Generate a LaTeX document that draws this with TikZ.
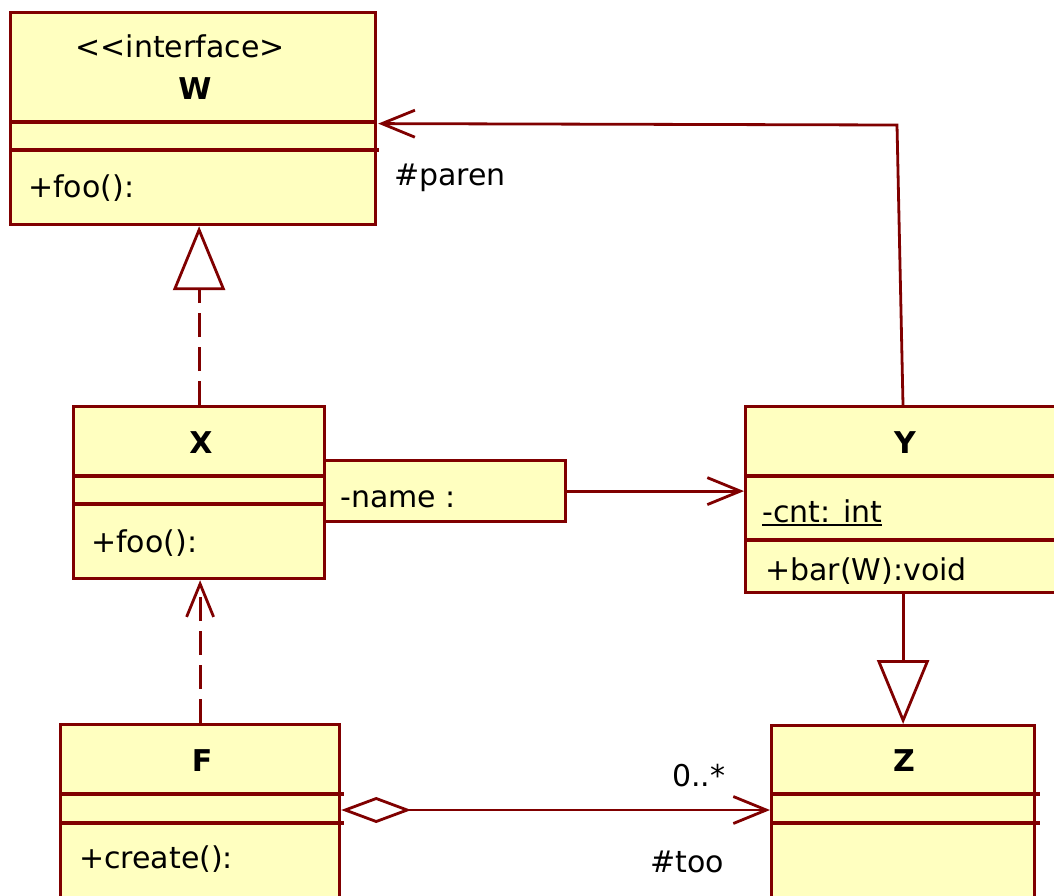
\documentclass[tikz,border=0pt]{standalone}
\usepackage{fontspec}
\setmainfont{DejaVu Sans}
\usetikzlibrary{arrows.meta,calc}
\definecolor{umlred}{RGB}{128,0,0}
\definecolor{umlfill}{RGB}{255,255,192}
\newcommand\umlul[1]{\leavevmode\vtop{\hbox{#1}\kern2pt\hrule height 2pt}}
\tikzset{
  classbox/.style={draw=umlred, fill=umlfill, line width=3.2pt, rectangle, inner sep=0pt, anchor=north west},
  divider/.style={draw=umlred, line width=3.2pt},
  conn/.style={draw=umlred, line width=2.8pt},
  txt/.style={inner sep=0pt, font=\fontsize{30}{36}\selectfont, text=black},
  ttl/.style={inner sep=0pt, font=\fontsize{30}{36}\selectfont\bfseries, text=black, anchor=base},
  dashconn/.style={conn, dash pattern=on 24pt off 10pt},
  openhead/.style={-{Straight Barb[length=33pt, width=27pt, line width=2.8pt]}},
  trihead/.style={-{Triangle[fill=white, length=64pt, width=52pt, line width=2.8pt]}},
  aggr/.style={{Diamond[fill=white, length=70pt, width=26pt, line width=2.8pt]}-{Straight Barb[length=33pt, width=27pt, line width=2.8pt]}}
}
\begin{document}
\begin{tikzpicture}[x=1pt, y=-1pt]
\useasboundingbox (0,0) rectangle (1054,895);
\fill[white] (0,0) rectangle (1054,895);
\clip (0,0) rectangle (1054,895);

% class boxes
\node[classbox, minimum width=365pt, minimum height=212pt] (W) at (9,11) {};
\node[classbox, minimum width=251pt, minimum height=172pt] (X) at (72,405) {};
\node[classbox, minimum width=241pt, minimum height=61pt] (nameattr) at (323,459) {};
\node[classbox, minimum width=330pt, minimum height=186pt] (Y) at (744,405) {};
\node[classbox, minimum width=263pt, minimum height=190pt] (Z) at (770,724) {};
\node[classbox, minimum width=279pt, minimum height=190pt] (F) at (59,723) {};

% dividers
\draw[divider] ($(W.north west)+(0,111)$) -- ($(W.north east)+(0,111)$);
\draw[divider] ($(W.north west)+(0,139)$) -- ($(W.north east)+(2,139)$);
\draw[divider] ($(X.north west)+(0,71)$) -- ($(X.north east)+(0,71)$);
\draw[divider] ($(X.north west)+(0,99)$) -- ($(X.north east)+(0,99)$);
\draw[divider] ($(Y.north west)+(0,71)$) -- ($(Y.north east)+(0,71)$);
\draw[divider] ($(Y.north west)+(0,135)$) -- ($(Y.north east)+(0,135)$);
\draw[divider] ($(Z.north west)+(0,70)$) -- ($(Z.north east)+(4,70)$);
\draw[divider] ($(Z.north west)+(0,99)$) -- ($(Z.north east)+(4,99)$);
\draw[divider] ($(F.north west)+(0,71)$) -- ($(F.north east)+(3,71)$);
\draw[divider] ($(F.north west)+(0,100)$) -- ($(F.north east)+(3,100)$);

% texts
\node[txt, anchor=base] (wst) at (180,57) {<{}<interface>};
\node[ttl] (wname) at (195,99) {W};
\node[txt, anchor=base west] (wop) at (28,197) {+foo():};
\node[txt, anchor=base west] (paren) at (394,185) {\#paren};

\node[ttl] (xname) at (201,453) {X};
\node[txt, anchor=base west] (xop) at (91,552) {+foo():};
\node[txt, anchor=base west] (nametxt) at (340,507) {-name :};

\node[ttl] (yname) at (905,453) {Y};
\node[txt, anchor=base west] (cnt) at (762,522) {\umlul{-cnt: int}};
\node[txt, anchor=base west] (bar) at (765,580) {+bar(W):void};

\node[ttl] (zname) at (904,771) {Z};
\node[ttl] (fname) at (202,771) {F};
\node[txt, anchor=base west] (create) at (79,868) {+create():};
\node[txt, anchor=base west] (mult) at (672,786) {0..*};
\node[txt, anchor=base west] (too) at (650,872) {\#too};

% connectors
\coordinate (ytop) at ($(Y.north west)+(159,0)$);
\coordinate (bend) at (897,125);
\coordinate (wend) at ($(W.east)+(1,5)$);
\draw[conn, openhead] (ytop) -- (bend) -- (wend);

\draw[dashconn, trihead] (X.north) -- (X.north |- W.south);

\draw[conn, openhead] (nameattr.east) -- (nameattr.east -| Y.west);

\draw[conn, trihead] (Z.north |- Y.south) -- (Z.north);

\draw[dashconn, openhead] (F.north) -- (F.north |- X.south);

\coordinate (aggs) at ($(F.north east)+(0,87)$);
\draw[conn, aggr] (aggs) -- (aggs -| Z.west);
\end{tikzpicture}
\end{document}
